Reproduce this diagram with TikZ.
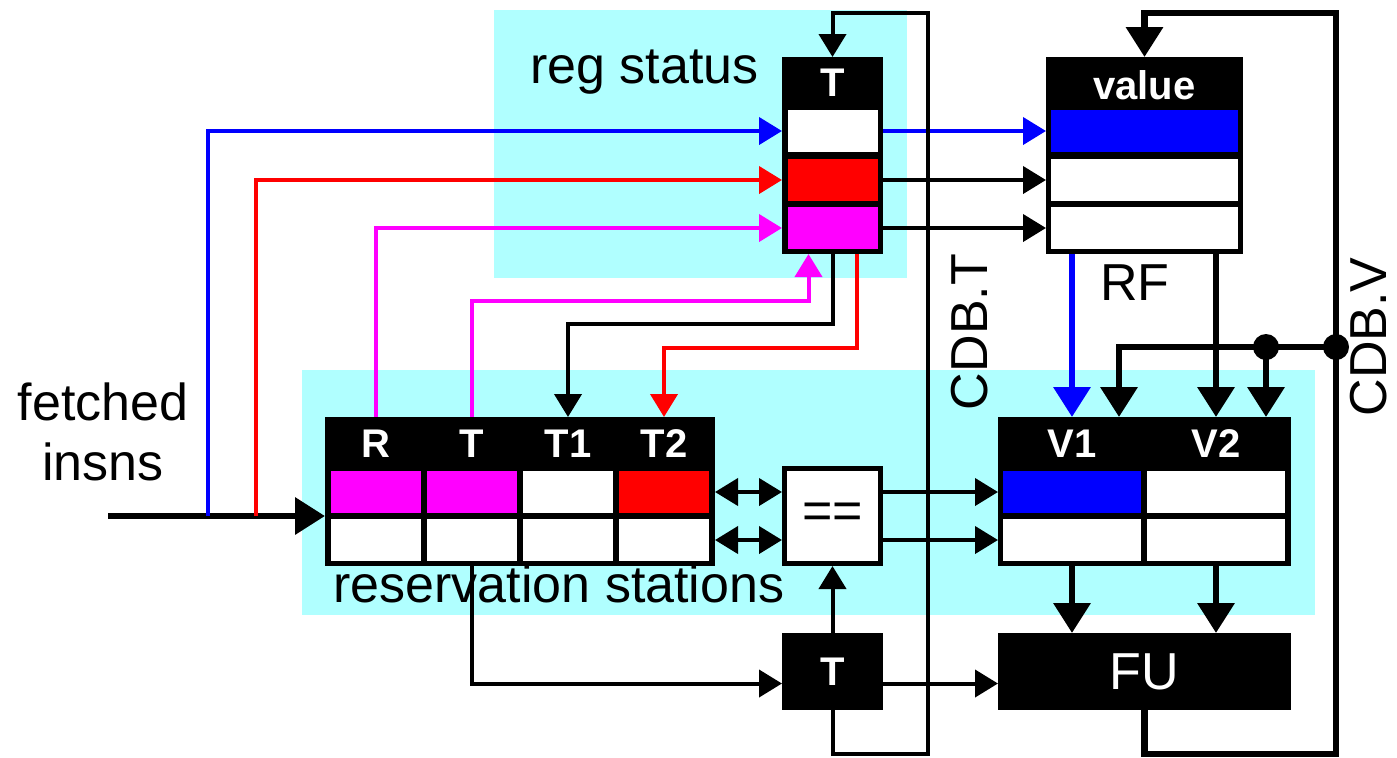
\documentclass[tikz,border=0pt]{standalone}
\usepackage{fontspec}
\setmainfont{Liberation Sans}
\usetikzlibrary{arrows.meta, positioning, calc}
\definecolor{cyanBg}{RGB}{176, 255, 255}
\definecolor{tagMag}{RGB}{255, 0, 255}
\definecolor{tagRed}{RGB}{255, 0, 0}
\definecolor{tagBlue}{RGB}{0, 0, 255}

\begin{document}
\begin{tikzpicture}[
    x=0.5pt, y=-0.5pt,
    tbl/.style={rectangle, fill=black, inner sep=0pt, outer sep=0pt},
    cell/.style={rectangle, fill=white, inner sep=0pt, outer sep=0pt, minimum width=45pt, minimum height=21pt},
    hdr/.style={text=white, inner sep=0pt, font=\bfseries\fontsize{20}{24}\selectfont},
    lbl/.style={inner sep=0pt, font=\fontsize{26}{31}\selectfont},
    wire/.style={line width=2pt, -{Triangle[length=11.5pt, width=13.5pt]}},
    dwire/.style={line width=2pt, {Triangle[length=11.5pt, width=13.5pt]}-{Triangle[length=11.5pt, width=13.5pt]}},
    bus/.style={line width=3.3pt, -{Triangle[length=15pt, width=18pt]}},
    dot/.style={circle, fill=black, inner sep=0pt, minimum size=13pt}
  ]
    \useasboundingbox (0,0) rectangle (1397,757);

    % Shaded areas
    \fill[cyanBg] (494,10) rectangle (907,278);
    \fill[cyanBg] (302,370) rectangle (1315,615);

    % Register status table
    \node[tbl, minimum width=50.5pt, minimum height=98.5pt] (regT) at (832.5,155.5) {};
    \node[hdr] (regH) at (832.5,83) {T};
    \node[cell] (rA) at (832.5,131) {};
    \node[cell, fill=tagRed] (rB) at (832.5,180) {};
    \node[cell, fill=tagMag] (rC) at (832.5,228) {};
    \node[lbl, anchor=base west] (regL) at (530,83) {reg status};

    % Register file
    \node[tbl, minimum width=98.5pt, minimum height=98.5pt] (rf) at (1144.5,155.5) {};
    \node[hdr] (rfH) at (1144.5,85) {value};
    \node[cell, minimum width=93.5pt, fill=tagBlue] (fA) at (1144.5,131) {};
    \node[cell, minimum width=93.5pt] (fB) at (1144.5,180) {};
    \node[cell, minimum width=93.5pt] (fC) at (1144.5,228) {};
    \node[lbl, anchor=base west] (rfL) at (1100,300) {RF};

    % Reservation stations
    \node[tbl, minimum width=195pt, minimum height=74.5pt] (rs) at (520,491.5) {};
    \node[hdr] (hR) at (376,444) {R};
    \node[hdr] (hT) at (472,444) {T};
    \node[hdr] (hT1) at (568,444) {T1};
    \node[hdr] (hT2) at (664,444) {T2};
    \node[cell, fill=tagMag] (c11) at (376,492) {};
    \node[cell, fill=tagMag] (c12) at (472,492) {};
    \node[cell] (c13) at (568,492) {};
    \node[cell, fill=tagRed] (c14) at (664,492) {};
    \node[cell] (c21) at (376,540) {};
    \node[cell] (c22) at (472,540) {};
    \node[cell] (c23) at (568,540) {};
    \node[cell] (c24) at (664,540) {};
    \node[lbl, anchor=base west] (rsL) at (333,602) {reservation stations};

    % Operand values
    \node[tbl, minimum width=146.5pt, minimum height=74.5pt] (vt) at (1144.5,491.5) {};
    \node[hdr] (hV1) at (1072,444) {V1};
    \node[hdr] (hV2) at (1216,444) {V2};
    \node[cell, minimum width=69pt, fill=tagBlue] (vA) at (1072,492) {};
    \node[cell, minimum width=69pt] (vB) at (1216,492) {};
    \node[cell, minimum width=69pt] (vC) at (1072,540) {};
    \node[cell, minimum width=69pt] (vD) at (1216,540) {};

    % Compare, tag and FU
    \node[rectangle, fill=white, draw=black, line width=2.5pt, inner sep=0pt, minimum width=48pt, minimum height=47.5pt, font=\fontsize{26}{31}\selectfont] (eq) at (832.5,516) {\raisebox{-5pt}{==}};
    \node[tbl, minimum width=50.5pt, minimum height=38.5pt, text=white, font=\bfseries\fontsize{20}{24}\selectfont] (tbox) at (832.5,671.5) {T};
    \node[tbl, minimum width=146.5pt, minimum height=38.5pt, text=white, font=\fontsize{26}{31}\selectfont] (fu) at (1144.5,671.5) {FU};

    % Labels outside
    \node[lbl, anchor=base] (fetchL) at (103,420) {fetched};
    \node[lbl, anchor=base] (insnsL) at (103,480) {insns};
    \node[lbl, rotate=90] (cdbtL) at (970,332) {CDB.T};
    \node[lbl, rotate=90] (cdbvL) at (1369,337) {CDB.V};

    % Bus corners and taps
    \coordinate (fetchIn) at (108,516);
    \coordinate (tapB) at (208,516);
    \coordinate (tapR) at (256,516);
    \coordinate (busTb) at (928,754);
    \coordinate (busTt) at (928,13);
    \coordinate (busVb) at (1336,754);
    \coordinate (busVt) at (1336,13);
    \node[dot] (jV) at (1336,347) {};
    \node[dot] (jW) at (1266,347) {};

    % Issue path
    \draw[bus] (fetchIn) -- (fetchIn -| rs.west);
    \draw[wire, tagBlue] (tapB) |- (rA -| regT.west);
    \draw[wire, tagRed] (tapR) |- (rB -| regT.west);
    \draw[wire, tagMag] (hR |- rs.north) |- (rC -| regT.west);
    \draw[wire, tagMag] (hT |- rs.north) |- ($(regT.south)+(-24,47)$) -- ($(regT.south)+(-24,0)$);
    \draw[wire] (regT.south) -- ++(0,70) -| (hT1 |- rs.north);
    \draw[wire, tagRed] ($(regT.south)+(24,0)$) -- ++(0,94) -| (hT2 |- rs.north);

    % Register status to register file
    \draw[wire, tagBlue] (rA -| regT.east) -- (fA -| rf.west);
    \draw[wire] (rB -| regT.east) -- (fB -| rf.west);
    \draw[wire] (rC -| regT.east) -- (fC -| rf.west);

    % Register file to operands
    \draw[bus, tagBlue] (hV1 |- rf.south) -- (hV1 |- vt.north);
    \draw[bus] (hV2 |- rf.south) -- (hV2 |- vt.north);

    % Tag match
    \draw[dwire] (c14 -| rs.east) -- (c14 -| eq.west);
    \draw[dwire] (c24 -| rs.east) -- (c24 -| eq.west);
    \draw[wire] (eq.east |- vA) -- (vA -| vt.west);
    \draw[wire] (eq.east |- vC) -- (vC -| vt.west);
    \draw[wire] (tbox.north) -- (eq.south);
    \draw[wire] (hT |- rs.south) |- ($(tbox.west)+(0,12)$);
    \draw[wire] ($(tbox.east)+(0,12)$) -- ($(fu.west)+(0,12)$);

    % Operands to FU
    \draw[bus] (hV1 |- vt.south) -- (hV1 |- fu.north);
    \draw[bus] (hV2 |- vt.south) -- (hV2 |- fu.north);

    % Common data bus
    \draw[wire] (tbox.south) |- (busTb) -- (busTt) -| (regT.north);
    \draw[bus] (fu.south) |- (busVb) -- (busVt) -| (rf.north);
    \draw[bus] (jV.center) -| ($(vt.north)+(-25.5,0)$);
    \draw[bus] (jW.center) -- (jW |- vt.north);
  \end{tikzpicture}
\end{document}
